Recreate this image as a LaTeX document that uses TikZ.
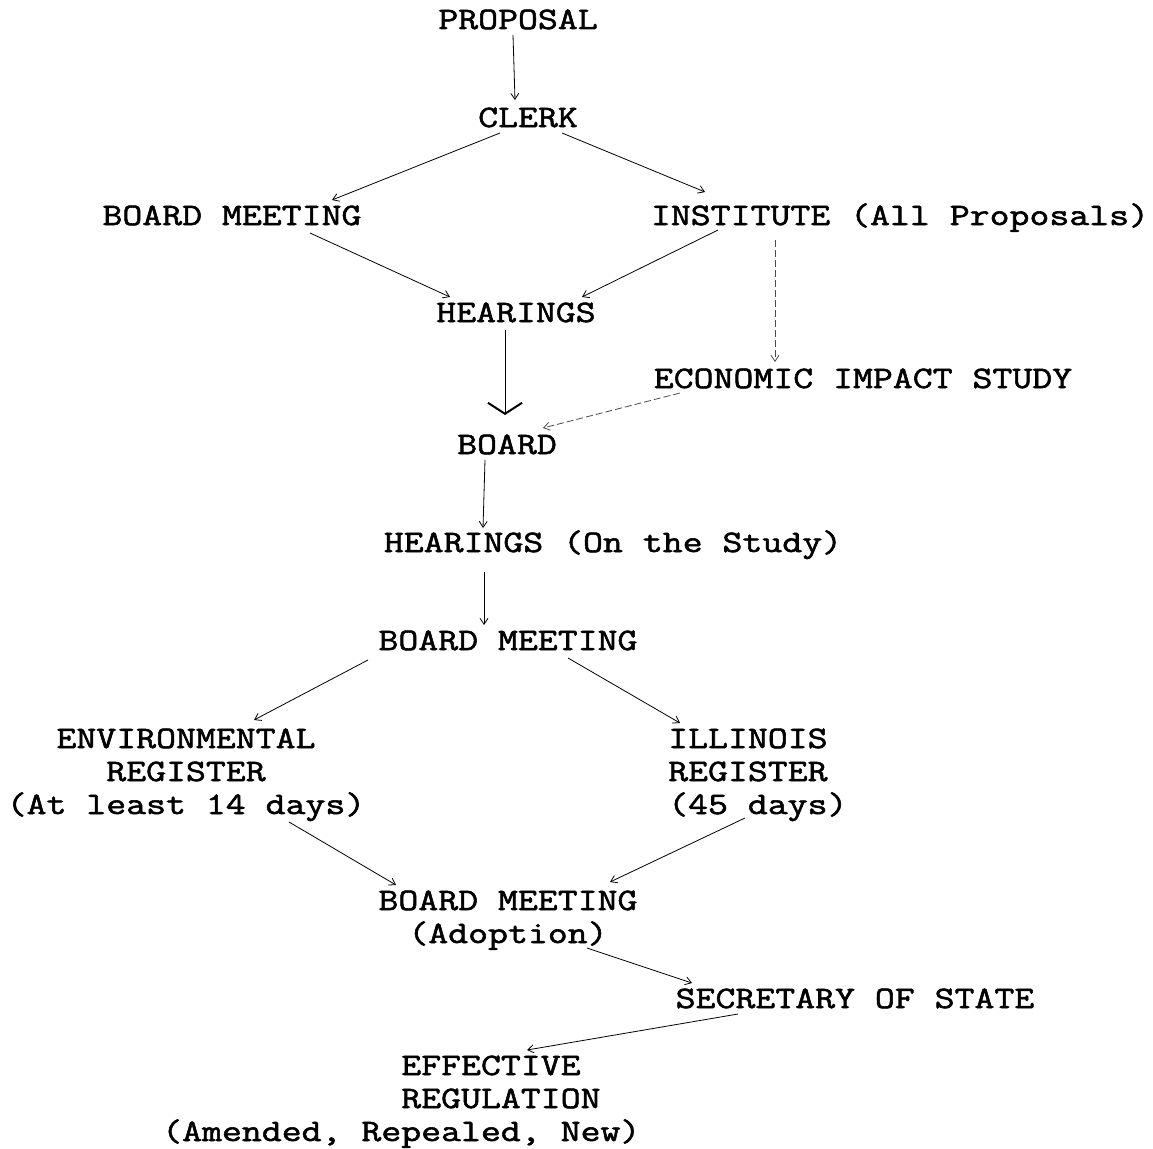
\documentclass[tikz,border=0pt]{standalone}
\usepackage{fontspec}
\newfontfamily\tw[FakeBold=1.8,FakeStretch=1.24]{Latin Modern Mono}
\usetikzlibrary{arrows.meta}
\begin{document}
\begin{tikzpicture}[x=1pt,y=-1pt,
  lbl/.style={inner sep=0pt,font=\tw\fontsize{31.2}{33}\selectfont,anchor=base},
  conn/.style={line width=0.8pt,-{Straight Barb[length=6pt,width=8pt]}},
  faint/.style={conn,dash pattern=on 7pt off 3pt,draw=black!70},
  bigtip/.style={line width=0.9pt,-{Straight Barb[length=11pt,width=34pt,line width=2pt]}}]
\useasboundingbox (0,0) rectangle (1153,1148);
\node[lbl] (prop) at (518,29) {PROPOSAL};
\node[lbl] (clerk) at (528,127) {CLERK};
\node[lbl] (bm1) at (232,225) {BOARD MEETING};
\node[lbl] (inst) at (900,225) {INSTITUTE (All Proposals)};
\node[lbl] (hear1) at (516,322) {HEARINGS};
\node[lbl] (econ) at (863,388) {ECONOMIC IMPACT STUDY};
\node[lbl] (board) at (507,454) {BOARD};
\node[lbl] (hear2) at (613,552) {HEARINGS (On the Study)};
\node[lbl] (bm2) at (508,650) {BOARD MEETING};
\node[lbl,align=center] (env) at (186,814) {ENVIRONMENTAL\\REGISTER\\(At least 14 days)};
\node[lbl,align=left,anchor=base west] (ill) at (668,814) {ILLINOIS\\REGISTER\\(45 days)};
\node[lbl,align=center] (bm3) at (508,943) {BOARD MEETING\\(Adoption)};
\node[lbl] (sec) at (855,1008) {SECRETARY OF STATE};
\node[lbl,align=left,anchor=base west] (eff) at (162,1141) {\phantom{ABCDEFGHIJKL}EFFECTIVE\\\phantom{ABCDEFGHIJKL}REGULATION\\(Amended, Repealed, New)};

\draw[conn] ([shift={(-5,6)}]prop.base) -- ([shift={(-13,-27)}]clerk.base);
\draw[conn] ([shift={(-28,6)}]clerk.base) -- ([shift={(100,-25)}]bm1.base);
\draw[conn] ([shift={(34,6)}]clerk.base) -- ([shift={(-195,-33)}]inst.base);
\draw[conn] ([shift={(78,8)}]bm1.base) -- ([shift={(-66,-25)}]hear1.base);
\draw[conn] ([shift={(-182,5)}]inst.base) -- ([shift={(66,-25)}]hear1.base);
\draw[faint] ([shift={(-125,15)}]inst.base) -- ([shift={(-88,-26)}]econ.base);
\draw[bigtip] ([shift={(-11,8)}]hear1.base) -- ([shift={(-2,-39)}]board.base);
\draw[faint] ([shift={(-183,5)}]econ.base) -- ([shift={(36,-26)}]board.base);
\draw[conn] ([shift={(-22,6)}]board.base) -- ([shift={(-130,-24)}]hear2.base);
\draw[conn] ([shift={(-129,20)}]hear2.base) -- ([shift={(-24,-25)}]bm2.base);
\draw[conn] ([shift={(-140,10)}]bm2.base) -- ([shift={(68,-94)}]env.base);
\draw[conn] ([shift={(60,8)}]bm2.base) -- ([shift={(12,-91)}]ill.base west);
\draw[conn] ([shift={(103,8)}]env.base) -- ([shift={(-112,-58)}]bm3.base);
\draw[conn] ([shift={(77,4)}]ill.base west) -- ([shift={(102,-61)}]bm3.base);
\draw[conn] ([shift={(79,5)}]bm3.base) -- ([shift={(-163,-25)}]sec.base);
\draw[conn] ([shift={(-117,6)}]sec.base) -- ([shift={(365,-91)}]eff.base west);
\end{tikzpicture}
\end{document}
